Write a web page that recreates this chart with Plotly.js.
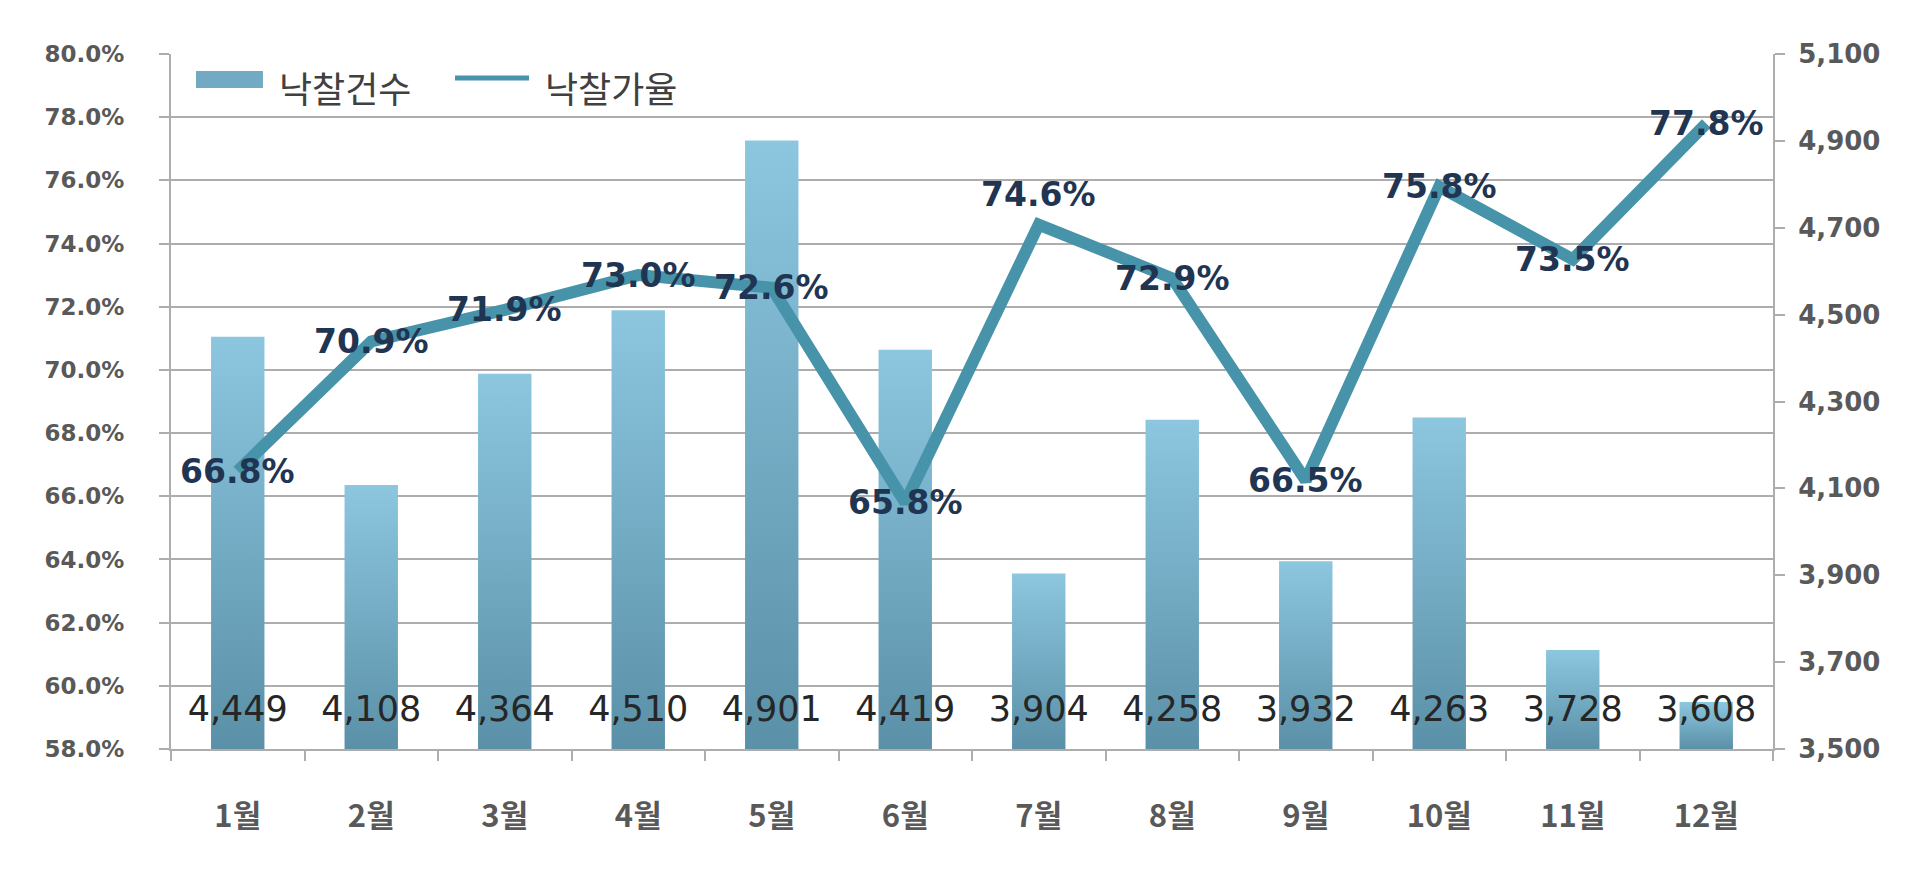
<!DOCTYPE html>
<html>
<head>
<meta charset="utf-8">
<script src="https://cdn.plot.ly/plotly-3.0.1.min.js"></script>
<style>
  html, body { margin: 0; padding: 0; background: #fff; }
  #plot { width: 1920px; height: 882px; }
</style>
</head>
<body>
<div id="plot"></div>
<script>
// 월별 낙찰건수 (bars, right axis) + 낙찰가율 (line, left axis)
const MONTHS = ["1월", "2월", "3월", "4월", "5월", "6월",
                "7월", "8월", "9월", "10월", "11월", "12월"];
const BID_COUNT = [4449, 4108, 4364, 4510, 4901, 4419,
                   3904, 4258, 3932, 4263, 3728, 3608];
const BID_RATE = [66.8, 70.9, 71.9, 73.0, 72.6, 65.8,
                  74.6, 72.9, 66.5, 75.8, 73.5, 77.8];
const SERIES_NAMES = ["낙찰건수", "낙찰가율"];
// vertical nudge (px) of each rate label; 7월 sits above its point
const RATE_LABEL_SHIFT = [0, 0, 0, 0, 0, 0, 30, 0, 0, 0, 0, 0];

const COLORS = {
  BAR_TOP: "#8cc7df",
  BAR_BOTTOM: "#5a90a8",
  BAR_SWATCH: "#72aac3",
  LINE: "#4793aa",
  LABEL: "#1f3552",
  GRID: "#adadad",
  TICK: "#595959",
  LEGEND: "#404040",
};

const COUNT_MIN = 3500, COUNT_MAX = 5100;
const HALF_BAR = 0.2;
const idx = MONTHS.map((_, i) => i);

const traces = [];

// Bars as filled shapes so each one gets its own vertical gradient.
BID_COUNT.forEach((v, i) => {
  traces.push({
    type: "scatter", mode: "none",
    x: [i - HALF_BAR, i + HALF_BAR, i + HALF_BAR, i - HALF_BAR, i - HALF_BAR],
    y: [COUNT_MIN, COUNT_MIN, v, v, COUNT_MIN],
    fill: "toself",
    fillgradient: {
      type: "vertical",
      colorscale: [[0, COLORS.BAR_BOTTOM], [1, COLORS.BAR_TOP]],
    },
    fillcolor: COLORS.BAR_TOP,
    yaxis: "y",
    name: SERIES_NAMES[0],
    hoverinfo: "skip",
  });
});

// Count labels sitting at the foot of each bar.
traces.push({
  type: "scatter", mode: "text",
  x: idx,
  y: BID_COUNT.map(() => 3585),
  text: BID_COUNT.map((v) => v.toLocaleString("en-US")),
  textposition: "middle center",
  textfont: { family: "DejaVu Sans", size: 35, color: "#262626" },
  yaxis: "y",
  hoverinfo: "skip",
});

// Rate line on the overlaying axis so it is drawn above the bars.
traces.push({
  type: "scatter", mode: "lines",
  x: idx,
  y: BID_RATE,
  line: { color: COLORS.LINE, width: 12 },
  name: SERIES_NAMES[1],
  yaxis: "y2",
});

// Invisible trace so the month-label axis is drawn.
traces.push({
  type: "scatter", mode: "markers",
  x: idx, y: BID_RATE,
  marker: { opacity: 0 },
  xaxis: "x2", yaxis: "y2",
  hoverinfo: "skip",
});

const annotations = BID_RATE.map((v, i) => ({
  x: i, y: v, xref: "x", yref: "y2",
  text: "<b>" + v.toFixed(1) + "%</b>",
  showarrow: false,
  yshift: RATE_LABEL_SHIFT[i],
  font: { family: "DejaVu Sans", size: 33, color: COLORS.LABEL },
}));

// Legend drawn by hand: wide bar swatch + thin line swatch.
const legendFont = { family: "Noto Sans CJK KR", size: 36, color: COLORS.LEGEND };
annotations.push(
  { xref: "paper", yref: "paper", x: 0.066, y: 0.953, xanchor: "left", yanchor: "middle",
    text: SERIES_NAMES[0], showarrow: false, font: legendFont },
  { xref: "paper", yref: "paper", x: 0.232, y: 0.953, xanchor: "left", yanchor: "middle",
    text: SERIES_NAMES[1], showarrow: false, font: legendFont }
);
const shapes = [
  { type: "rect", xref: "paper", yref: "paper",
    x0: 0.0156, x1: 0.0574, y0: 0.951, y1: 0.9755,
    fillcolor: COLORS.BAR_SWATCH, line: { width: 0 } },
  { type: "line", xref: "paper", yref: "paper",
    x0: 0.1773, x1: 0.2235, y0: 0.9655, y1: 0.9655,
    line: { color: COLORS.LINE, width: 5 } },
];

const boundaries = [];
for (let i = 0; i <= MONTHS.length; i++) boundaries.push(i - 0.5);

const layout = {
  width: 1920, height: 882,
  margin: { l: 171, r: 147, t: 54, b: 133 },
  paper_bgcolor: "#fff",
  plot_bgcolor: "#fff",
  showlegend: false,
  annotations,
  shapes,
  xaxis: {
    range: [-0.5, MONTHS.length - 0.5],
    tickvals: boundaries,
    showticklabels: false,
    ticks: "outside", ticklen: 10, tickcolor: COLORS.GRID, tickwidth: 2,
    showline: true, linecolor: COLORS.GRID, linewidth: 2,
    showgrid: false, zeroline: false,
  },
  xaxis2: {
    overlaying: "x",
    range: [-0.5, MONTHS.length - 0.5],
    tickvals: idx,
    ticktext: MONTHS,
    side: "bottom",
    ticks: "",
    ticklabelstandoff: 46,
    showline: false, showgrid: false, zeroline: false,
    tickfont: { family: "Noto Sans CJK KR", size: 31, color: COLORS.TICK, weight: "bold" },
  },
  yaxis: {
    side: "right",
    range: [COUNT_MIN, COUNT_MAX],
    tick0: COUNT_MIN,
    dtick: 200,
    tickformat: ",",
    ticks: "outside", ticklen: 10, tickcolor: COLORS.GRID, tickwidth: 2,
    ticklabelstandoff: 8,
    showline: true, linecolor: COLORS.GRID, linewidth: 2,
    showgrid: false, zeroline: false,
    tickfont: { family: "DejaVu Sans", size: 26, color: COLORS.TICK, weight: "bold" },
  },
  yaxis2: {
    overlaying: "y",
    side: "left",
    range: [58, 80],
    dtick: 2,
    tickformat: ".1f",
    ticksuffix: "%",
    ticks: "outside", ticklen: 10, tickcolor: COLORS.GRID, tickwidth: 2,
    ticklabelstandoff: 30,
    showline: true, linecolor: COLORS.GRID, linewidth: 2,
    showgrid: true, gridcolor: COLORS.GRID, gridwidth: 2,
    zeroline: false,
    tickfont: { family: "DejaVu Sans", size: 23, color: COLORS.TICK, weight: "bold" },
  },
};

Plotly.newPlot("plot", traces, layout, { displayModeBar: false, staticPlot: true });
</script>
</body>
</html>
